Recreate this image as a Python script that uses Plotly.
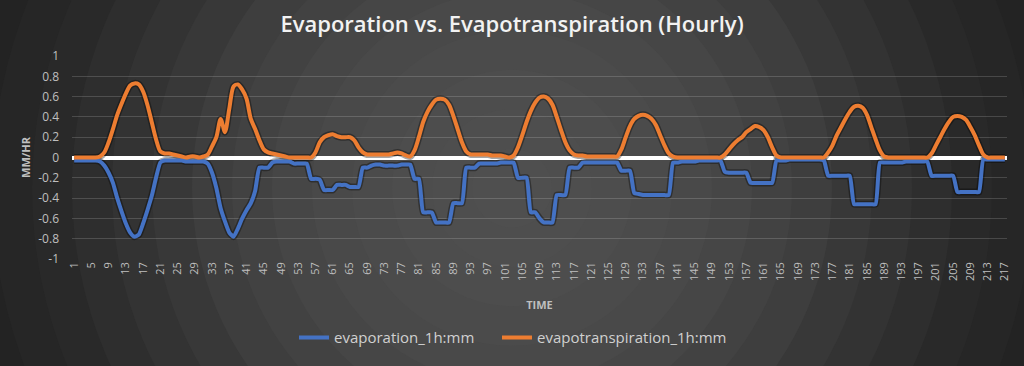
import numpy as np
import plotly.graph_objects as go

# ---------------- data ----------------
hours = list(range(1, 218))
tick_hours = list(range(1, 218, 4))
tick_labels = [str(h) for h in tick_hours]

evaporation = [
    -0.03, -0.03, -0.03, -0.03, -0.03, -0.03, -0.04, -0.08, -0.15, -0.25,
    -0.40, -0.53, -0.65, -0.74, -0.78, -0.76, -0.65, -0.52, -0.38, -0.20,
    -0.05, -0.03, -0.03, -0.03, -0.03, -0.03, -0.04, -0.04, -0.04, -0.04,
    -0.04, -0.06, -0.15, -0.30, -0.50, -0.63, -0.74, -0.78, -0.70, -0.60,
    -0.52, -0.45, -0.33, -0.10, -0.10, -0.10, -0.05, -0.04, -0.04, -0.04,
    -0.04, -0.06, -0.06, -0.06, -0.06, -0.21, -0.21, -0.22, -0.32, -0.32,
    -0.32, -0.27, -0.27, -0.27, -0.29, -0.29, -0.29, -0.10, -0.10, -0.08,
    -0.07, -0.07, -0.08, -0.08, -0.08, -0.08, -0.07, -0.07, -0.07, -0.21,
    -0.21, -0.54, -0.54, -0.54, -0.64, -0.64, -0.64, -0.64, -0.45, -0.45,
    -0.45, -0.10, -0.10, -0.10, -0.06, -0.06, -0.06, -0.06, -0.06, -0.05,
    -0.05, -0.05, -0.05, -0.20, -0.20, -0.20, -0.54, -0.54, -0.60, -0.64,
    -0.64, -0.64, -0.37, -0.37, -0.37, -0.10, -0.10, -0.10, -0.05, -0.05,
    -0.05, -0.05, -0.05, -0.05, -0.05, -0.05, -0.05, -0.13, -0.13, -0.13,
    -0.35, -0.36, -0.37, -0.37, -0.37, -0.37, -0.37, -0.37, -0.37, -0.05,
    -0.05, -0.04, -0.04, -0.04, -0.04, -0.03, -0.03, -0.03, -0.03, -0.03,
    -0.03, -0.14, -0.15, -0.15, -0.15, -0.15, -0.15, -0.25, -0.25, -0.25,
    -0.25, -0.25, -0.25, -0.03, -0.03, -0.03, -0.02, -0.02, -0.02, -0.02,
    -0.02, -0.02, -0.02, -0.02, -0.03, -0.18, -0.18, -0.18, -0.18, -0.18,
    -0.18, -0.46, -0.46, -0.46, -0.46, -0.46, -0.46, -0.05, -0.05, -0.05,
    -0.05, -0.05, -0.05, -0.04, -0.04, -0.04, -0.04, -0.04, -0.04, -0.18,
    -0.18, -0.18, -0.18, -0.18, -0.18, -0.34, -0.34, -0.34, -0.34, -0.34,
    -0.34, -0.02, -0.02, -0.02, -0.02, -0.02, -0.02,
]

evapotranspiration = [
    0.00, 0.00, 0.00, 0.00, 0.00, 0.00, 0.01, 0.05, 0.15, 0.28,
    0.42, 0.53, 0.63, 0.71, 0.73, 0.72, 0.65, 0.52, 0.35, 0.18,
    0.06, 0.04, 0.04, 0.03, 0.02, 0.01, 0.00, 0.01, 0.01, 0.00,
    0.01, 0.03, 0.11, 0.20, 0.38, 0.25, 0.48, 0.70, 0.72, 0.67,
    0.58, 0.38, 0.28, 0.17, 0.08, 0.05, 0.04, 0.03, 0.02, 0.01,
    0.00, 0.00, 0.00, 0.00, 0.00, 0.00, 0.05, 0.15, 0.20, 0.22,
    0.23, 0.21, 0.20, 0.20, 0.20, 0.17, 0.10, 0.05, 0.03, 0.03,
    0.03, 0.03, 0.03, 0.03, 0.04, 0.05, 0.04, 0.02, 0.01, 0.07,
    0.20, 0.35, 0.45, 0.52, 0.57, 0.58, 0.57, 0.52, 0.41, 0.28,
    0.15, 0.06, 0.03, 0.03, 0.03, 0.03, 0.03, 0.02, 0.02, 0.02,
    0.01, 0.00, 0.02, 0.10, 0.22, 0.35, 0.46, 0.54, 0.59, 0.60,
    0.58, 0.52, 0.40, 0.27, 0.15, 0.07, 0.03, 0.02, 0.02, 0.01,
    0.01, 0.01, 0.01, 0.01, 0.01, 0.01, 0.01, 0.08, 0.20, 0.31,
    0.38, 0.41, 0.42, 0.41, 0.38, 0.32, 0.22, 0.12, 0.04, 0.01,
    0.00, 0.00, 0.00, 0.00, 0.00, 0.00, 0.00, 0.00, 0.00, 0.00,
    0.00, 0.03, 0.08, 0.13, 0.17, 0.20, 0.25, 0.28, 0.31, 0.30,
    0.27, 0.20, 0.10, 0.02, 0.00, 0.00, 0.00, 0.00, 0.00, 0.00,
    0.00, 0.00, 0.00, 0.00, 0.00, 0.05, 0.12, 0.22, 0.30, 0.38,
    0.45, 0.50, 0.51, 0.49, 0.42, 0.30, 0.18, 0.07, 0.01, 0.00,
    0.00, 0.00, 0.00, 0.00, 0.00, 0.00, 0.00, 0.00, 0.00, 0.04,
    0.12, 0.20, 0.28, 0.35, 0.40, 0.41, 0.40, 0.37, 0.30, 0.22,
    0.12, 0.03, 0.00, 0.00, 0.00, 0.00, 0.00,
]

y_ticks = [-1, -0.8, -0.6, -0.4, -0.2, 0, 0.2, 0.4, 0.6, 0.8, 1]
y_tick_labels = ["-1", "-0.8", "-0.6", "-0.4", "-0.2", "0", "0.2", "0.4", "0.6", "0.8", "1"]

# ---------------- layout geometry ----------------
W, H = 1024, 366
ML, MR, MT, MB = 72, 17, 56, 104
PW, PH = W - ML - MR, H - MT - MB

FONT = "Open Sans"
LABEL = "#bfbfbf"

# radial banded background (drawn as concentric circles in paper coords)
cx, cy = 512, 190
radii = np.arange(600, 20, -40)
shapes = []
for r in radii:
    g = int(round(np.interp(r, [0, 100, 234, 311, 400, 500, 600],
                            [80, 78, 71, 63, 51, 39, 33])))
    col = f"rgb({g},{g},{g})"
    shapes.append(dict(
        type="circle", xref="paper", yref="paper", layer="below",
        x0=(cx - r - ML) / PW, x1=(cx + r - ML) / PW,
        y0=(H - MB - (cy + r)) / PH, y1=(H - MB - (cy - r)) / PH,
        fillcolor=col, line=dict(width=0),
    ))

fig = go.Figure()
# soft dark shadows under the lines
fig.add_trace(go.Scatter(
    x=hours, y=evaporation, mode="lines", showlegend=False, hoverinfo="skip",
    line=dict(color="rgba(0,0,0,0.35)", width=7, shape="spline", smoothing=0.5),
))
fig.add_trace(go.Scatter(
    x=hours, y=evapotranspiration, mode="lines", showlegend=False, hoverinfo="skip",
    line=dict(color="rgba(0,0,0,0.35)", width=7, shape="spline", smoothing=0.8),
))
fig.add_trace(go.Scatter(
    x=hours, y=evaporation, mode="lines", name="evaporation_1h:mm",
    line=dict(color="#4472C4", width=4, shape="spline", smoothing=0.5),
    legend="legend",
))
fig.add_trace(go.Scatter(
    x=hours, y=evapotranspiration, mode="lines", name="evapotranspiration_1h:mm",
    line=dict(color="#ED7D31", width=4, shape="spline", smoothing=0.8),
    legend="legend2",
))

legend_style = dict(
    orientation="h", xanchor="left",
    y=(H - MB - 342) / PH, yanchor="middle",
    font=dict(family=FONT, size=15, color="#d0d0d0"),
    bgcolor="rgba(0,0,0,0)", itemwidth=30,
)

fig.update_layout(
    width=W, height=H,
    margin=dict(l=ML, r=MR, t=MT, b=MB, pad=0),
    paper_bgcolor="rgb(32,32,32)",
    plot_bgcolor="rgba(0,0,0,0)",
    shapes=shapes,
    title=dict(
        text="Evaporation vs. Evapotranspiration (Hourly)",
        x=0.5, xanchor="center", xref="container",
        y=1 - 24 / H, yanchor="middle",
        font=dict(family=FONT, size=22, color="#f2f2f2", weight=600),
    ),
    showlegend=True,
    legend=dict(x=(294 - ML) / PW, **legend_style),
    legend2=dict(x=(497 - ML) / PW, **legend_style),
    font=dict(family=FONT, color=LABEL),
    hovermode=False,
)

fig.update_xaxes(
    range=[0.5, 217.5], tickmode="array", tickvals=tick_hours, ticktext=tick_labels,
    tickangle=-90, tickfont=dict(family=FONT, size=11, color=LABEL),
    showgrid=False, zeroline=False, showline=False, ticks="",
    title=dict(text="TIME", font=dict(family=FONT, size=11, color=LABEL, weight=700), standoff=21),
    automargin=False,
)
fig.update_yaxes(
    range=[-1, 1], tickmode="array", tickvals=y_ticks, ticktext=y_tick_labels,
    tickfont=dict(family=FONT, size=12, color=LABEL),
    showgrid=True, gridcolor="rgba(255,255,255,0.16)", gridwidth=1,
    zeroline=True, zerolinecolor="#ffffff", zerolinewidth=4,
    showline=False, ticks="", ticklabelstandoff=12,
    title=dict(text="MM/HR", font=dict(family=FONT, size=11, color=LABEL, weight=700), standoff=5),
    automargin=False,
)

fig.write_html("out.html", config={"displayModeBar": False},
               post_script="document.body.style.margin='0px';")
